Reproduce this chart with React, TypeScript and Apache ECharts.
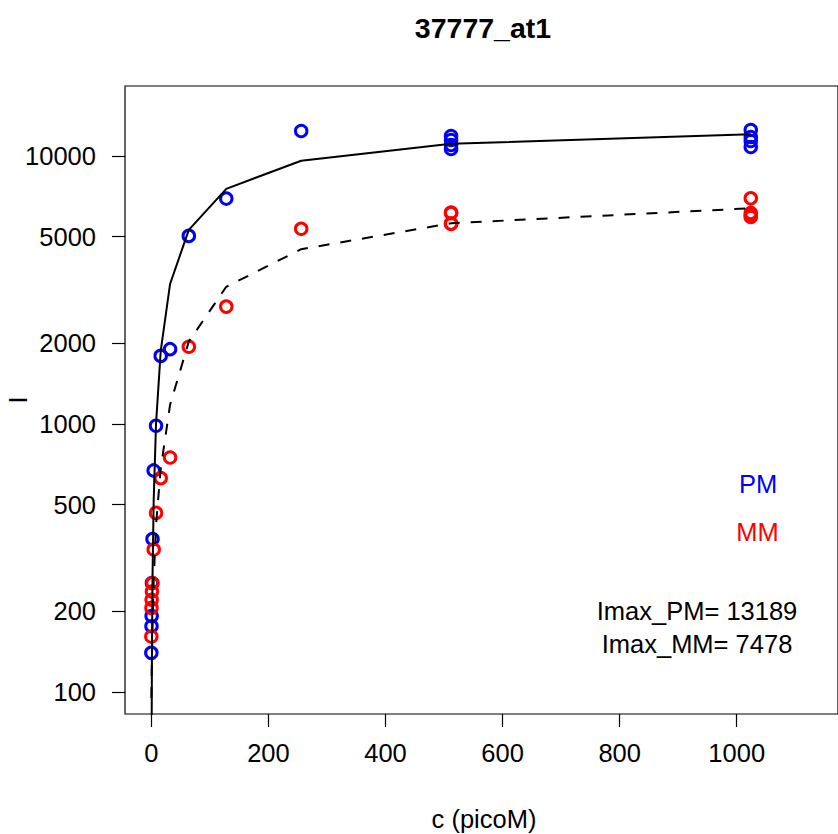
import React, { useEffect, useRef } from "react";
import * as echarts from "echarts";

// concentrations of the measured points
const conc = [0, 0.25, 0.5, 1, 2, 4, 8, 16, 32, 64, 128, 256, 512, 512, 512, 512, 1024, 1024, 1024, 1024];
// PM intensities (blue)
const pmValues = [140, 176, 192, 255, 372, 671, 985, 1795, 1902, 5033, 6934, 12395, 11875, 11473, 10990, 10619, 12502, 11771, 11374, 10803];
// MM intensities (red)
const mmValues = [161, 206, 221, 237, 255, 340, 466, 628, 750, 1942, 2741, 5348, 6150, 6120, 5600, 5580, 6950, 6130, 6000, 5920];

// fitted curves
const fitConc = [0, 0.25, 0.5, 1, 2, 4, 8, 16, 32, 64, 128, 256, 512, 1024];
const pmFit = [20, 40, 70, 135, 265, 520, 1000, 1870, 3330, 5300, 7540, 9600, 11100, 12050];
const mmFit = [95, 105, 115, 135, 175, 260, 420, 680, 1180, 2030, 3250, 4490, 5610, 6380];

const xTicks = [0, 200, 400, 600, 800, 1000];
const yTicks = [100, 200, 500, 1000, 2000, 5000, 10000];

const title = "37777_at1";
const xName = "c (picoM)";
const yName = "I";
const imaxPM = 13189;
const imaxMM = 7478;

const FONT = "'Liberation Sans', Arial, Helvetica, sans-serif";
const FS = 25.5;

export default function App() {
  const ref = useRef<HTMLDivElement>(null);
  useEffect(() => {
    if (!ref.current) return;
    const chart = echarts.init(ref.current, null, { renderer: "svg" });
    const lg = (v: number) => Math.log10(v);
    const pts = (cs: number[], vs: number[]) => cs.map((c, i) => [c, lg(vs[i])]);
    const gridLeft = 125, gridTop = 86, gridW = 721, gridH = 628;
    chart.setOption({
      animation: false,
      backgroundColor: "#ffffff",
      grid: {
        left: gridLeft,
        top: gridTop,
        width: gridW,
        height: gridH,
        show: true,
        borderColor: "#000",
        borderWidth: 1.2,
        backgroundColor: "transparent",
        containLabel: false,
      },
      xAxis: {
        type: "value",
        min: -45,
        max: 1173,
        axisLine: { show: false, onZero: false },
        splitLine: { show: false },
        axisTick: { show: true, inside: false, length: 13, customValues: xTicks, lineStyle: { color: "#000", width: 1.2 } },
        axisLabel: {
          customValues: xTicks,
          margin: 26,
          fontSize: FS,
          fontFamily: FONT,
          color: "#000",
          formatter: (v: number) => String(v),
        },
      },
      yAxis: {
        type: "value",
        min: lg(82.8),
        max: lg(18240),
        axisLine: { show: false, onZero: false },
        splitLine: { show: false },
        axisTick: { show: true, inside: false, length: 13, customValues: yTicks.map(lg), lineStyle: { color: "#000", width: 1.2 } },
        axisLabel: {
          customValues: yTicks.map(lg),
          margin: 29,
          fontSize: FS,
          fontFamily: FONT,
          color: "#000",
          formatter: (v: number) => String(Math.round(Math.pow(10, v))),
        },
      },
      series: [
        {
          type: "scatter",
          data: pts(conc, pmValues),
          symbol: "circle",
          symbolSize: 11.5,
          itemStyle: { color: "rgba(0,0,0,0)", borderColor: "#0000FF", borderWidth: 3, opacity: 1 },
          z: 2,
        },
        {
          type: "scatter",
          data: pts(conc, mmValues),
          symbol: "circle",
          symbolSize: 11.5,
          itemStyle: { color: "rgba(0,0,0,0)", borderColor: "#FF0000", borderWidth: 3, opacity: 1 },
          z: 2,
        },
        {
          type: "line",
          data: pts(fitConc, pmFit),
          showSymbol: false,
          symbol: "none",
          clip: true,
          lineStyle: { color: "#000", width: 2, type: "solid" },
          z: 3,
        },
        {
          type: "line",
          data: pts(fitConc, mmFit),
          showSymbol: false,
          symbol: "none",
          clip: true,
          lineStyle: { color: "#000", width: 2, type: [11, 11] },
          z: 3,
        },
      ],
      graphic: [
        {
          type: "text",
          x: 483,
          y: 28,
          style: { text: title, font: `bold 28.5px ${FONT}`, fill: "#000", textAlign: "center", textVerticalAlign: "middle" },
        },
        {
          type: "text",
          x: 484,
          y: 819,
          style: { text: xName, font: `${FS}px ${FONT}`, fill: "#000", textAlign: "center", textVerticalAlign: "middle" },
        },
        {
          type: "text",
          x: 18,
          y: 400,
          rotation: Math.PI / 2,
          style: { text: yName, font: `${FS}px ${FONT}`, fill: "#000", textAlign: "center", textVerticalAlign: "middle" },
        },
        {
          type: "text",
          x: 758,
          y: 484,
          style: { text: "PM", font: `${FS}px ${FONT}`, fill: "#0000FF", textAlign: "center", textVerticalAlign: "middle" },
        },
        {
          type: "text",
          x: 757.5,
          y: 532,
          style: { text: "MM", font: `${FS}px ${FONT}`, fill: "#FF0000", textAlign: "center", textVerticalAlign: "middle" },
        },
        {
          type: "text",
          x: 697,
          y: 611,
          style: { text: `Imax_PM= ${imaxPM}`, font: `${FS}px ${FONT}`, fill: "#000", textAlign: "center", textVerticalAlign: "middle" },
        },
        {
          type: "text",
          x: 697,
          y: 644,
          style: { text: `Imax_MM= ${imaxMM}`, font: `${FS}px ${FONT}`, fill: "#000", textAlign: "center", textVerticalAlign: "middle" },
        },
      ],
    });
    return () => chart.dispose();
  }, []);
  return (
    <div
      ref={ref}
      style={{ position: "fixed", left: 0, top: 0, width: 838, height: 834, background: "#fff" }}
    />
  );
}
